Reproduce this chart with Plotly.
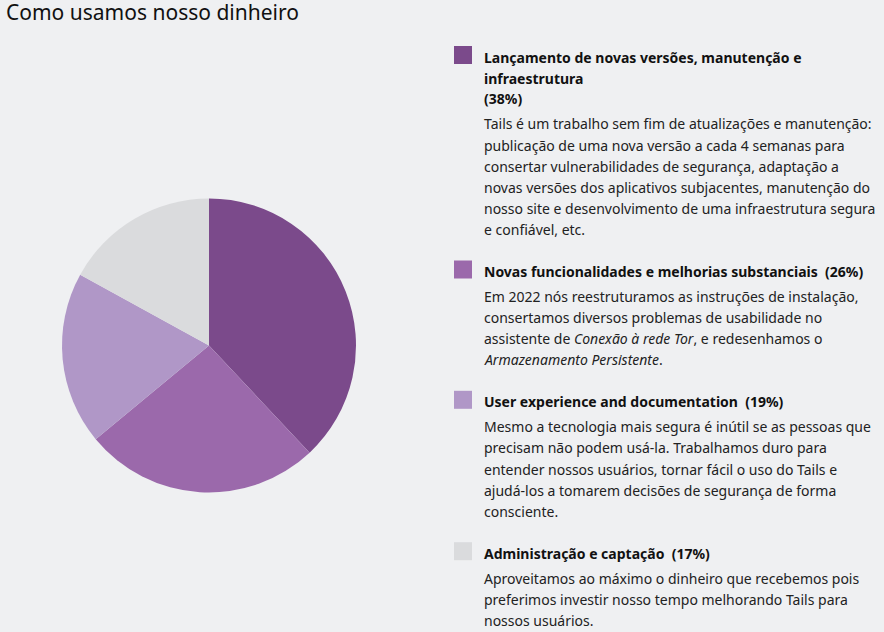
import plotly.graph_objects as go

# data
title_text = "Como usamos nosso dinheiro"
labels = [
    "Lançamento de novas versões, manutenção e infraestrutura",
    "Novas funcionalidades e melhorias substanciais",
    "User experience and documentation",
    "Administração e captação",
]
values = [38, 26, 19, 17]
colors = ["#7b4a8b", "#9b69ab", "#b097c7", "#dadbdd"]

# heading lines as shown in the legend column (text wrapped like the picture)
heading_lines = [
    ["Lançamento de novas versões, manutenção e", "infraestrutura", "(38%)"],
    ["Novas funcionalidades e melhorias substanciais\u00a0 (26%)"],
    ["User experience and documentation\u00a0 (19%)"],
    ["Administração e captação\u00a0 (17%)"],
]
body_lines = [
    ["Tails é um trabalho sem fim de atualizações e manutenção:",
     "publicação de uma nova versão a cada 4 semanas para",
     "consertar vulnerabilidades de segurança, adaptação a",
     "novas versões dos aplicativos subjacentes, manutenção do",
     "nosso site e desenvolvimento de uma infraestrutura segura",
     "e confiável, etc."],
    ["Em 2022 nós reestruturamos as instruções de instalação,",
     "consertamos diversos problemas de usabilidade no",
     "assistente de <i>Conexão à rede Tor</i>, e redesenhamos o",
     "<i>Armazenamento Persistente</i>."],
    ["Mesmo a tecnologia mais segura é inútil se as pessoas que",
     "precisam não podem usá-la. Trabalhamos duro para",
     "entender nossos usuários, tornar fácil o uso do Tails e",
     "ajudá-los a tomarem decisões de segurança de forma",
     "consciente."],
    ["Aproveitamos ao máximo o dinheiro que recebemos pois",
     "preferimos investir nosso tempo melhorando Tails para",
     "nossos usuários."],
]

W, H = 884, 632
BG = "#eff0f2"
FONT = "Noto Sans"


def py(px):
    return 1 - px / H


def pxx(px):
    return px / W


fig = go.Figure()
fig.add_trace(go.Pie(
    labels=labels,
    values=values,
    sort=False,
    direction="clockwise",
    rotation=0,
    marker=dict(colors=colors, line=dict(width=0)),
    textinfo="none",
    hoverinfo="label+percent",
    showlegend=False,
    domain=dict(x=[pxx(62), pxx(356)], y=[py(493), py(198)]),
))

annotations = [dict(
    text=title_text, x=pxx(5), y=py(12.5), xref="paper", yref="paper",
    xanchor="left", yanchor="middle", showarrow=False, borderpad=0,
    font=dict(family=FONT, size=21, color="#111111"),
)]
shapes = []

TX = 482  # left edge of legend text
y = 57
for i in range(len(labels)):
    shapes.append(dict(
        type="rect", xref="paper", yref="paper",
        x0=pxx(454), x1=pxx(472), y0=py(y - 11), y1=py(y + 7),
        fillcolor=colors[i], line=dict(width=0),
    ))
    for j, line in enumerate(heading_lines[i]):
        if j > 0:
            y += 21
        annotations.append(dict(
            text="<b>" + line + "</b>", x=pxx(TX), y=py(y),
            xref="paper", yref="paper", xanchor="left", yanchor="middle",
            showarrow=False, font=dict(family=FONT, size=14, color="#111111"),
        ))
    y += 25
    for j, line in enumerate(body_lines[i]):
        if j > 0:
            y += 21.1
        annotations.append(dict(
            text=line, x=pxx(TX), y=py(y),
            xref="paper", yref="paper", xanchor="left", yanchor="middle",
            showarrow=False, font=dict(family=FONT, size=14, color="#222222"),
        ))
    y += 42

fig.update_layout(
    width=W, height=H,
    margin=dict(l=0, r=0, t=0, b=0),
    paper_bgcolor=BG, plot_bgcolor=BG,
    annotations=annotations,
    shapes=shapes,
    font=dict(family=FONT),
)

# page body has a default margin; drop it so the figure fills the window
fig.write_html(
    "out.html",
    config={"displayModeBar": False},
    post_script="document.body.style.margin='0';document.body.style.background='%s';" % BG,
)
